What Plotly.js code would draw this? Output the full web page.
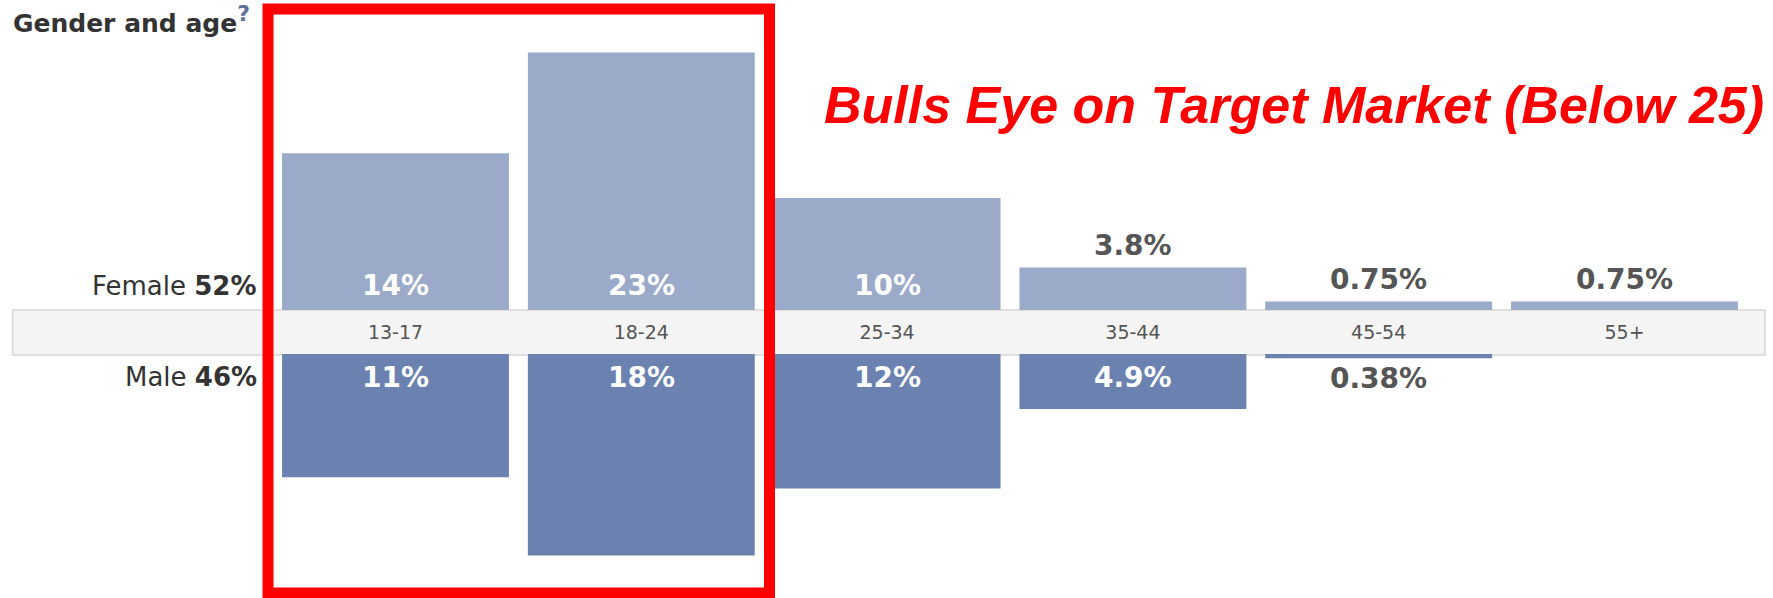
<!DOCTYPE html>
<html>
<head>
<meta charset="utf-8">
<script src="https://cdn.plot.ly/plotly-3.0.1.min.js"></script>
<style>
  html, body { margin: 0; padding: 0; background: #ffffff; }
  #chart { width: 1773px; height: 598px; }
</style>
</head>
<body>
<div id="chart"></div>
<script>
// ---- data ----
const ageGroups    = ['13-17', '18-24', '25-34', '35-44', '45-54', '55+'];
const femaleValues = [14, 23, 10, 3.8, 0.75, 0.75];
const maleValues   = [11, 18, 12, 4.9, 0.38, null];
const femaleLabels = ['14%', '23%', '10%', '3.8%', '0.75%', '0.75%'];
const maleLabels   = ['11%', '18%', '12%', '4.9%', '0.38%', null];
const femaleTotal  = '52%';
const maleTotal    = '46%';
const chartTitle   = 'Gender and age';
const callout      = 'Bulls Eye on Target Market (Below 25)';

// ---- geometry helpers (pixel -> paper) ----
const W = 1773, H = 598;
const px = x => x / W;
const py = y => 1 - y / H;

const FONT = '"DejaVu Sans", Verdana, sans-serif';
const femaleColor = '#9aaac8';
const maleColor = '#6b82b0';
const isInside = v => v !== null && v >= 4;

const female = {
  type: 'bar', x: ageGroups, y: femaleValues, xaxis: 'x', yaxis: 'y',
  marker: { color: femaleColor, line: { width: 0 } },
  hoverinfo: 'skip', showlegend: false
};
const male = {
  type: 'bar', x: ageGroups, y: maleValues, xaxis: 'x', yaxis: 'y2',
  marker: { color: maleColor, line: { width: 0 } },
  hoverinfo: 'skip', showlegend: false
};

// value labels placed through the axes' own scales
const valueAnnotations = [];
ageGroups.forEach((g, i) => {
  const fv = femaleValues[i];
  if (fv !== null && femaleLabels[i]) {
    const inside = isInside(fv);
    valueAnnotations.push({
      xref: 'x', yref: 'y', x: g, y: inside ? 0 : fv,
      yanchor: 'middle', xanchor: 'center', showarrow: false,
      yshift: inside ? 25 : 22,
      text: '<b>' + femaleLabels[i] + '</b>',
      font: { family: FONT, size: 28, color: inside ? '#ffffff' : '#555555' }
    });
  }
  const mv = maleValues[i];
  if (mv !== null && maleLabels[i]) {
    const inside = isInside(mv);
    valueAnnotations.push({
      xref: 'x', yref: 'y2', x: g, y: inside ? 0 : mv,
      yanchor: 'middle', xanchor: 'center', showarrow: false,
      yshift: inside ? -23 : -20,
      text: '<b>' + maleLabels[i] + '</b>',
      font: { family: FONT, size: 28, color: inside ? '#ffffff' : '#555555' }
    });
  }
});

const layout = {
  width: W, height: H,
  margin: { l: 0, r: 0, t: 0, b: 0, pad: 0 },
  paper_bgcolor: '#ffffff', plot_bgcolor: 'rgba(0,0,0,0)',
  bargap: 0.077,
  xaxis: {
    domain: [px(272.6), px(1747.4)], anchor: 'y',
    showgrid: false, zeroline: false, showline: false, ticks: '',
    tickfont: { family: FONT, size: 19, color: '#555555' },
    ticklabelstandoff: 9
  },
  yaxis: {
    domain: [py(310), py(30)], range: [0, 25],
    showgrid: false, zeroline: false, showticklabels: false, showline: false
  },
  yaxis2: {
    domain: [py(578), py(354)], range: [20, 0], anchor: 'x',
    showgrid: false, zeroline: false, showticklabels: false, showline: false
  },
  shapes: [
    { type: 'rect', xref: 'paper', yref: 'paper', layer: 'below',
      x0: px(12.7), x1: px(1765), y0: py(355), y1: py(310),
      fillcolor: '#f4f4f4', line: { color: '#d8d8d8', width: 1.5 } },
    { type: 'rect', xref: 'paper', yref: 'paper', layer: 'above',
      x0: px(268), x1: px(769.5), y0: py(593), y1: py(9),
      fillcolor: 'rgba(0,0,0,0)', line: { color: '#ff0000', width: 11 } }
  ],
  annotations: valueAnnotations.concat([
    { xref: 'paper', yref: 'paper', x: px(11), y: py(20), xanchor: 'left', yanchor: 'middle',
      showarrow: false,
      text: '<b>' + chartTitle + '</b><sup><span style="color:#5b6f99;font-size:22px"><b>?</b></span></sup>',
      font: { family: FONT, size: 25, color: '#333333' } },
    { xref: 'paper', yref: 'paper', x: px(259), y: py(286), xanchor: 'right', yanchor: 'middle',
      showarrow: false, text: 'Female <b>' + femaleTotal + '</b>',
      font: { family: FONT, size: 26, color: '#333333' } },
    { xref: 'paper', yref: 'paper', x: px(259), y: py(377), xanchor: 'right', yanchor: 'middle',
      showarrow: false, text: 'Male <b>' + maleTotal + '</b>',
      font: { family: FONT, size: 26, color: '#333333' } },
    { xref: 'paper', yref: 'paper', x: px(1293.5), y: py(105), xanchor: 'center', yanchor: 'middle',
      showarrow: false, text: '<b><i>' + callout + '</i></b>',
      font: { family: '"Liberation Sans", Arial, sans-serif', size: 52, color: '#ff0000' } }
  ])
};

Plotly.newPlot('chart', [female, male], layout, { staticPlot: true, displayModeBar: false });
</script>
</body>
</html>
